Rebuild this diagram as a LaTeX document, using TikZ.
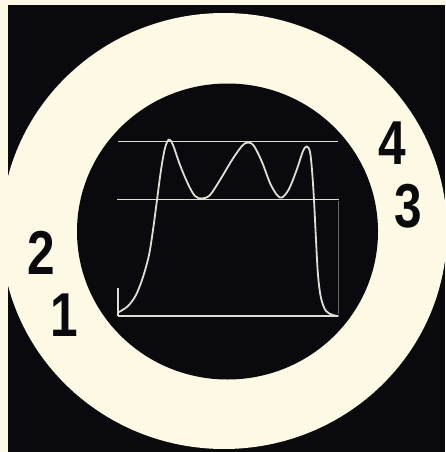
\documentclass[tikz,border=0pt]{standalone}
\usepackage{fontspec}
\setmainfont{Liberation Sans}
\definecolor{cream}{RGB}{253,249,228}
\definecolor{ink}{RGB}{10,10,14}
\definecolor{trace}{RGB}{222,222,212}
\begin{document}
\begin{tikzpicture}[x=1pt,y=-1pt,
  digit/.style={inner sep=0pt,text=ink,font=\fontsize{62}{62}\selectfont\bfseries,xscale=0.8},
  grat/.style={draw=trace,line width=1.8pt},
  wave/.style={draw=trace,line width=1.8pt,line cap=round,line join=round}]
\useasboundingbox (0,0) rectangle (445,452);
\fill[cream] (0,0) rectangle (445,452);
\fill[ink] (8,5) rectangle (445,452);
\fill[cream] (224,231) ellipse [x radius=223, y radius=218];
\fill[ink] (227.5,231.5) ellipse [x radius=150.5, y radius=148];
% graticule lines
\coordinate (l4a) at (118,141.5); \coordinate (l4b) at (338,141.5);
\coordinate (l3a) at (117,199.5); \coordinate (l3b) at (339,199.5);
\coordinate (l1a) at (118,316);   \coordinate (l1b) at (338,316);
\coordinate (tk) at (118,288);
\coordinate (rk) at (338,201);
\draw[grat] (l4a) -- (l4b);
\draw[grat] (l3a) -- (l3b);
\draw[grat] (l1a) -- (l1b);
\draw[grat,line width=1.2pt] (tk) -- (l1a);
\draw[draw=trace!45!ink,line width=1pt] (rk) -- (338,314);
% trace
\draw[wave] plot[smooth,tension=0.55] coordinates {
(119,312) (128,306) (136,295) (143,277) (149,255) (153,230) (157,200)
(161,170) (165,148) (169,139.5) (173,145) (180,165) (188,184) (195,196)
(202,198.5) (210,195) (220,180) (232,160) (242,146) (248,142.5) (254,146)
(262,162) (270,183) (277,195) (282,197.5) (289,189) (297,169) (303,151)
(307,146.5) (310,152) (312,170) (314,200) (316,240) (318,275) (321,298)
(326,311) (333,315) (338,316)};
% labels
\node[digit] (n2) at (41,253) {2};
\node[digit] (n1) at (64,315) {1};
\node[digit] (n4) at (392,143) {4};
\node[digit] (n3) at (408,206) {3};
\end{tikzpicture}
\end{document}
